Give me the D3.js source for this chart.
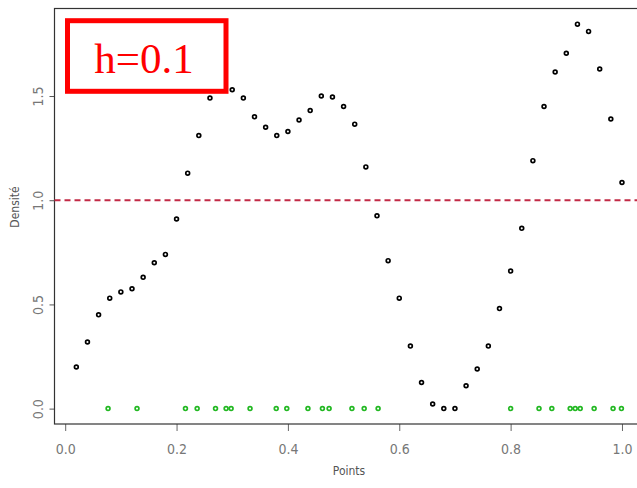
<!DOCTYPE html>
<html>
<head>
<meta charset="utf-8">
<script src="https://d3js.org/d3.v7.min.js"></script>
<style>
  body { margin: 0; background: #fff; }
</style>
</head>
<body>
<div id="chart"></div>
<script>

// black points: density estimate at the grid points
var gridX = [0.02, 0.04, 0.06, 0.08, 0.10, 0.12, 0.14, 0.16, 0.18, 0.20,
             0.22, 0.24, 0.26, 0.28, 0.30, 0.32, 0.34, 0.36, 0.38, 0.40,
             0.42, 0.44, 0.46, 0.48, 0.50, 0.52, 0.54, 0.56, 0.58, 0.60,
             0.62, 0.64, 0.66, 0.68, 0.70, 0.72, 0.74, 0.76, 0.78, 0.80,
             0.82, 0.84, 0.86, 0.88, 0.90, 0.92, 0.94, 0.96, 0.98, 1.00];
var densite = [0.20, 0.32, 0.45, 0.53, 0.56, 0.575, 0.63, 0.70, 0.74, 0.91,
               1.13, 1.31, 1.49, 1.53, 1.53, 1.49, 1.40, 1.35, 1.31, 1.33,
               1.385, 1.43, 1.50, 1.495, 1.45, 1.365, 1.16, 0.925, 0.71, 0.53,
               0.30, 0.125, 0.022, 0.0, 0.0, 0.11, 0.19, 0.30, 0.48, 0.66,
               0.865, 1.19, 1.45, 1.615, 1.705, 1.845, 1.81, 1.63, 1.39, 1.085];

// green points: the observations, drawn on y = 0
var obsX = [0.077, 0.129, 0.216, 0.237, 0.270, 0.289, 0.298, 0.332, 0.379, 0.398,
            0.436, 0.462, 0.474, 0.515, 0.537, 0.562, 0.800, 0.851, 0.874, 0.907,
            0.916, 0.925, 0.950, 0.984, 0.999];

var xTicks = [0, 0.2, 0.4, 0.6, 0.8, 1.0];
var yTicks = [0, 0.5, 1.0, 1.5];
var refLine = 1.0;
var label = "h=0.1";

var width = 637, height = 488;
var narrow = "'Liberation Sans Narrow', 'Arial Narrow', 'DejaVu Sans Condensed', sans-serif";

var svg = d3.select("#chart")
  .append("svg")
    .attr("width", width)
    .attr("height", height);

// R style axes: range extended 4% beyond the data
var x = d3.scaleLinear()
  .domain([-0.0192, 1.0392])
  .range([54.5, 643.8]);
var y = d3.scaleLinear()
  .domain([-0.0738, 1.92])
  .range([424, 8.5]);

// X axis
var gx = svg.append("g")
  .attr("transform", "translate(0," + y.range()[0] + ")")
  .call(d3.axisBottom(x).tickValues(xTicks).tickSize(7).tickPadding(13)
          .tickFormat(d3.format(".1f")));
gx.select(".domain").remove();
gx.selectAll("line").attr("stroke", "#666");
gx.selectAll("text")
  .attr("fill", "#777")
  .style("font-family", narrow)
  .style("font-size", "14px");

// Y axis, labels turned like in R
var gy = svg.append("g")
  .attr("transform", "translate(" + x.range()[0] + ",0)")
  .call(d3.axisLeft(y).tickValues(yTicks).tickSize(5)
          .tickFormat(d3.format(".1f")));
gy.select(".domain").remove();
gy.selectAll("line").attr("stroke", "#555");
gy.selectAll("text")
  .attr("x", 0)
  .attr("y", 0)
  .attr("dy", null)
  .attr("text-anchor", "middle")
  .attr("transform", "translate(-12,0) rotate(-90)")
  .attr("fill", "#777")
  .style("font-family", narrow)
  .style("font-size", "14px");

// plot box
svg.append("rect")
  .attr("x", x.range()[0])
  .attr("y", y.range()[1])
  .attr("width", x.range()[1] - x.range()[0])
  .attr("height", y.range()[0] - y.range()[1])
  .attr("fill", "none")
  .attr("stroke", "#333")
  .attr("stroke-width", 1.2);

// axis titles
svg.append("text")
  .attr("x", 349)
  .attr("y", 475)
  .attr("text-anchor", "middle")
  .attr("fill", "#555")
  .style("font-family", narrow)
  .style("font-size", "12px")
  .text("Points");

svg.append("text")
  .attr("transform", "translate(18.5,207) rotate(-90)")
  .attr("text-anchor", "middle")
  .attr("fill", "#555")
  .style("font-family", narrow)
  .style("font-size", "12px")
  .text("Densité");

// dashed reference line at 1
svg.append("line")
  .attr("x1", x.range()[0])
  .attr("x2", x.range()[1])
  .attr("y1", y(refLine))
  .attr("y2", y(refLine))
  .attr("stroke", "#c22a46")
  .attr("stroke-width", 2)
  .attr("stroke-dasharray", "6,4");

// observations
svg.append("g")
  .selectAll("circle")
  .data(obsX)
  .join("circle")
    .attr("cx", function(d) { return x(d); })
    .attr("cy", y(0))
    .attr("r", 1.9)
    .attr("fill", "none")
    .attr("stroke", "#22b822")
    .attr("stroke-width", 1.7);

// density estimate
svg.append("g")
  .selectAll("circle")
  .data(gridX)
  .join("circle")
    .attr("cx", function(d) { return x(d); })
    .attr("cy", function(d, i) { return y(densite[i]); })
    .attr("r", 1.9)
    .attr("fill", "none")
    .attr("stroke", "#000")
    .attr("stroke-width", 1.7);

// red label box
svg.append("rect")
  .attr("x", 67.5)
  .attr("y", 20.7)
  .attr("width", 158.5)
  .attr("height", 70.6)
  .attr("fill", "#fff")
  .attr("stroke", "#ff0000")
  .attr("stroke-width", 5);

svg.append("text")
  .attr("x", 144)
  .attr("y", 72.5)
  .attr("text-anchor", "middle")
  .attr("fill", "#ff0000")
  .style("font-family", "'Liberation Serif', 'Times New Roman', serif")
  .style("font-size", "43px")
  .text(label);

</script>
</body>
</html>
